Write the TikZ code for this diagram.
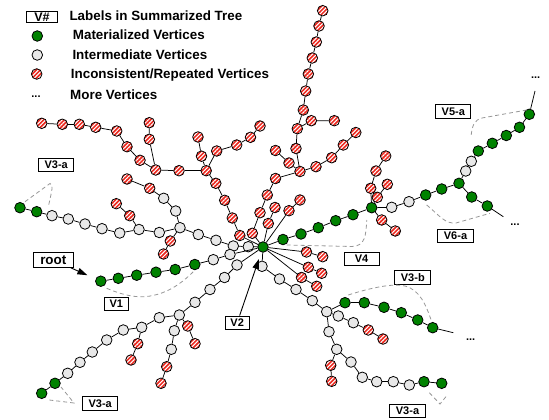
\documentclass[tikz,border=0pt]{standalone}
\usepackage{fontspec}
\setmainfont{Liberation Sans}
\usetikzlibrary{arrows.meta,patterns.meta}
\definecolor{matgreen}{RGB}{0,130,0}
\definecolor{intergray}{RGB}{232,232,232}
\definecolor{hatchred}{RGB}{236,40,30}
\definecolor{dashgray}{RGB}{150,150,150}

\begin{document}
\begin{tikzpicture}[x=1pt,y=-1pt,
    vtx/.style={circle, draw=black, line width=0.8pt, minimum size=10.6pt, inner sep=0pt},
    mat/.style={vtx, fill=matgreen},
    inter/.style={vtx, fill=intergray},
    incon/.style={vtx, preaction={fill=hatchred}, pattern={Lines[angle=45,distance=2.9pt,line width=1.05pt]}, pattern color=white},
    edge/.style={line width=0.75pt},
    lab/.style={draw=black, fill=white, line width=0.9pt, font=\fontsize{11}{11}\selectfont\bfseries, inner xsep=6pt, inner ysep=0pt, minimum height=13.3pt},
    note/.style={dashgray, line width=0.8pt, dash pattern=on 4pt off 3pt},
    legtext/.style={font=\fontsize{13.4}{14}\selectfont\bfseries, inner sep=0pt, anchor=base west},
    more/.style={font=\fontsize{11}{11}\selectfont\bfseries, inner sep=0pt, anchor=base}
]
    \useasboundingbox (0,0) rectangle (549,420);

    % Legend
    \node[lab, font=\fontsize{12.5}{12.5}\selectfont\bfseries, inner xsep=7.5pt, minimum height=11pt] (keylab) at (42,17.2) {V\#};
    \node[legtext] (keylabt) at (69.3,20.7) {Labels in Summarized Tree};
    \node[mat] (keymat) at (37.3,36) {};
    \node[legtext] (keymatt) at (72.7,40) {Materialized Vertices};
    \node[inter] (keyint) at (37.3,55) {};
    \node[legtext] (keyintt) at (72.3,59.3) {Intermediate Vertices};
    \node[incon] (keyinc) at (36.7,74) {};
    \node[legtext] (keyinct) at (70.7,78.3) {Inconsistent/Repeated Vertices};
    \node[more] (keymore) at (36,98) {...};
    \node[legtext] (keymoret) at (70,99.3) {More Vertices};

    % Hub vertex
    \node[mat] (h) at (263,247) {};

    % Left chain (V3-a, upper left)
    \foreach \i/\t/\x/\y in {1/inter/248.3/246.7, 2/inter/233.3/246, 3/inter/216/240.3,
        4/inter/198.3/234.5, 5/inter/180/227.7, 6/inter/159.3/232.5, 7/inter/139/229.5,
        8/inter/119.7/233, 9/inter/102/228.7, 10/inter/85/224, 11/inter/68.3/219,
        12/inter/52/215.7, 13/mat/36.7/211.7, 14/mat/20/207.7}
        \node[\t] (L\i) at (\x,\y) {};
    \foreach \i/\t/\x/\y in {1/incon/129.7/215.7, 2/incon/116.3/203.7}
        \node[\t] (La\i) at (\x,\y) {};
    \foreach \i/\t/\x/\y in {1/inter/175.7/211, 2/inter/163.7/198.3, 3/incon/149.7/188.3, 4/incon/127/179}
        \node[\t] (Lb\i) at (\x,\y) {};
    \foreach \i/\t/\x/\y in {1/incon/170.3/241, 2/incon/163.5/254}
        \node[\t] (Lc\i) at (\x,\y) {};
    \draw[edge] (h) -- (L1);
    \foreach \i [evaluate=\i as \j using int(\i+1)] in {1,...,13}
        \draw[edge] (L\i) -- (L\j);
    \draw[edge] (L7) -- (La1) -- (La2);
    \draw[edge] (L5) -- (Lb1) -- (Lb2) -- (Lb3) -- (Lb4);
    \draw[edge] (L5) -- (Lc1) -- (Lc2);

    % Root chain (V1)
    \foreach \i/\t/\x/\y in {1/inter/230/254.5, 2/inter/213.3/259.7, 3/mat/194.8/264.5,
        4/mat/175.2/269.5, 5/mat/156/272.2, 6/mat/136.7/275.2, 7/mat/118.3/278.3, 8/mat/100.8/281.2}
        \node[\t] (R\i) at (\x,\y) {};
    \draw[edge] (h) -- (R1);
    \foreach \i [evaluate=\i as \j using int(\i+1)] in {1,...,7}
        \draw[edge] (R\i) -- (R\j);

    % Lower left chain (V2)
    \foreach \i/\t/\x/\y in {1/inter/237/265, 2/inter/224.5/277.5, 3/inter/210/289.5,
        4/inter/195/302.3, 5/inter/179.3/315, 6/inter/159.3/317.7, 7/inter/141.7/327.3,
        8/inter/123.3/330, 9/inter/106.7/340, 10/inter/92.3/352, 11/inter/80/362.3,
        12/inter/67.7/373.3, 13/mat/55/383.3, 14/mat/41.7/393.3}
        \node[\t] (D\i) at (\x,\y) {};
    \foreach \i/\t/\x/\y in {1/incon/187.7/326, 2/incon/195/343.7}
        \node[\t] (Da\i) at (\x,\y) {};
    \foreach \i/\t/\x/\y in {1/inter/174.3/330.7, 2/inter/171.3/349.3, 3/incon/166.7/366.7, 4/incon/161/383.3}
        \node[\t] (Db\i) at (\x,\y) {};
    \foreach \i/\t/\x/\y in {1/incon/137.7/343.7, 2/incon/131/360}
        \node[\t] (Dc\i) at (\x,\y) {};
    \draw[edge] (h) -- (D1);
    \foreach \i [evaluate=\i as \j using int(\i+1)] in {1,...,13}
        \draw[edge] (D\i) -- (D\j);
    \draw[edge] (D5) -- (Da1) -- (Da2);
    \draw[edge] (D5) -- (Db1) -- (Db2) -- (Db3) -- (Db4);
    \draw[edge] (D7) -- (Dc1) -- (Dc2);

    % Long red chain to the top
    \foreach \i/\x/\y in {1/252.3/233.3, 2/260/212.7, 3/267.3/195, 4/275.5/178.5, 5/300/171.5,
        6/296/148.5, 7/297.3/128.7, 8/303.3/110, 9/305.7/91, 10/308.3/74, 11/312.3/58,
        12/316.3/42, 13/319/26, 14/322.7/10.7}
        \node[incon] (T\i) at (\x,\y) {};
    \foreach \i/\x/\y in {1/311.3/120.7, 2/334.3/120.7}
        \node[incon] (Ta\i) at (\x,\y) {};
    \foreach \i/\x/\y in {1/289/163, 2/275.5/150.5}
        \node[incon] (Tb\i) at (\x,\y) {};
    \foreach \i/\x/\y in {1/316/166.7, 2/331.7/157.7, 3/343.3/145, 4/355.8/132.5}
        \node[incon] (Tc\i) at (\x,\y) {};
    \draw[edge] (h) -- (T1);
    \foreach \i [evaluate=\i as \j using int(\i+1)] in {1,...,13}
        \draw[edge] (T\i) -- (T\j);
    \draw[edge] (T7) -- (Ta1) -- (Ta2);
    \draw[edge] (T5) -- (Tb1) -- (Tb2);
    \draw[edge] (T5) -- (Tc1) -- (Tc2) -- (Tc3) -- (Tc4);

    % Red tree, upper left
    \foreach \i/\x/\y in {1/239.8/235.5, 2/232.3/218, 3/224.7/200.3, 4/215.8/183.3, 5/206.2/170.7,
        6/179/170.7, 7/155.7/170, 8/140/160.3, 9/127/146.7, 10/116.7/131, 11/95.7/127.3,
        12/79.3/124.3, 13/62.3/124.3, 14/41.7/123.3}
        \node[incon] (U\i) at (\x,\y) {};
    \foreach \i/\x/\y in {1/149.3/139.3, 2/149.3/122.7}
        \node[incon] (Ua\i) at (\x,\y) {};
    \foreach \i/\x/\y in {1/201.5/156.2, 2/198/137}
        \node[incon] (Ub\i) at (\x,\y) {};
    \foreach \i/\x/\y in {1/216.7/151, 2/236.7/145, 3/250.5/137.3, 4/260/126}
        \node[incon] (Uc\i) at (\x,\y) {};
    \draw[edge] (h) -- (U1);
    \foreach \i [evaluate=\i as \j using int(\i+1)] in {1,...,13}
        \draw[edge] (U\i) -- (U\j);
    \draw[edge] (U7) -- (Ua1) -- (Ua2);
    \draw[edge] (U5) -- (Ub1) -- (Ub2);
    \draw[edge] (U5) -- (Uc1) -- (Uc2) -- (Uc3) -- (Uc4);

    % Short red stubs at the hub
    \foreach \n/\x/\y in {Sa1/268.3/223.5, Sa2/275/207.5, Sb1/289/210.7, Sb2/300/200,
        Ea1/306.5/252, Ea2/322.7/256.7, Eb1/308.3/267.3, Eb2/321.7/273.3,
        Ec1/301.5/277.5, Ec2/316.7/286.3}
        \node[incon] (\n) at (\x,\y) {};
    \foreach \a/\b in {h/Sa1, Sa1/Sa2, h/Sb1, Sb1/Sb2, h/Ea1, Ea1/Ea2, h/Eb1, Eb1/Eb2, h/Ec1, Ec1/Ec2}
        \draw[edge] (\a) -- (\b);

    % Green chain to the right (V4, V6-a, V5-a)
    \foreach \i/\t/\x/\y in {1/mat/283/239.5, 2/mat/301/234, 3/mat/318.3/227.7, 4/mat/335.7/220.7,
        5/mat/353/214.7, 6/mat/371.7/207.7, 7/inter/391.7/207.3, 8/inter/409/201.7,
        9/mat/425.7/195, 10/mat/441.7/189, 11/mat/459/183.3, 12/inter/465.7/171,
        13/inter/471.3/161.3, 14/mat/478.3/151, 15/mat/492.3/143.3, 16/mat/506.3/135.5,
        17/mat/519.5/127.3, 18/mat/529.3/114.3}
        \node[\t] (G\i) at (\x,\y) {};
    \coordinate (Gend) at (535,91);
    \node[mat] (Gd1) at (471.7,197) {};
    \node[mat] (Gd2) at (487.3,206) {};
    \coordinate (Gdend) at (503.3,216.7);
    \foreach \n/\x/\y in {Ga1/370.7/188.3, Ga2/376/171, Ga3/385.7/156, Gb1/377.3/197.3,
        Gb2/387.3/184.3, Gc1/381.7/220, Gc2/395.3/231}
        \node[incon] (\n) at (\x,\y) {};
    \draw[edge] (h) -- (G1);
    \foreach \i [evaluate=\i as \j using int(\i+1)] in {1,...,17}
        \draw[edge] (G\i) -- (G\j);
    \draw[edge] (G18) -- (Gend);
    \draw[edge] (G11) -- (Gd1) -- (Gd2) -- (Gdend);
    \draw[edge] (G6) -- (Ga1) -- (Ga2) -- (Ga3);
    \draw[edge] (G6) -- (Gb1) -- (Gb2);
    \draw[edge] (G6) -- (Gc1) -- (Gc2);
    \node[more] (more1) at (535.7,78.5) {...};
    \node[more] (more2) at (515,225.5) {...};

    % Gray chain to the lower right (V3-b, V3-a)
    \foreach \i/\x/\y in {1/262/266.3, 2/279.5/279, 3/296/289.5, 4/312.3/300.7, 5/326.7/311.7}
        \node[inter] (B\i) at (\x,\y) {};
    \foreach \i/\x/\y in {1/345/302.7, 2/364.3/302.7, 3/384/307.3, 4/401.3/312.7, 5/417.7/320, 6/432.7/327.7}
        \node[mat] (Ba\i) at (\x,\y) {};
    \coordinate (Baend) at (453.3,332.7);
    \foreach \i/\t/\x/\y in {1/inter/338.3/316, 2/inter/353.3/322.7, 3/incon/368.3/330, 4/incon/383/339}
        \node[\t] (Bb\i) at (\x,\y) {};
    \foreach \i/\x/\y in {1/329/331.7, 2/336.7/349.3}
        \node[inter] (Bc\i) at (\x,\y) {};
    \foreach \i/\x/\y in {1/330.7/365.3, 2/331.7/381.3}
        \node[incon] (Bd\i) at (\x,\y) {};
    \foreach \i/\t/\x/\y in {1/inter/351/362, 2/inter/362.3/377.3, 3/inter/376.7/381.7,
        4/inter/393.3/381.7, 5/inter/409.3/385, 6/mat/424/381.7, 7/mat/441.7/383.3}
        \node[\t] (Be\i) at (\x,\y) {};
    \draw[edge] (h) -- (B1) -- (B2) -- (B3) -- (B4) -- (B5);
    \draw[edge] (B5) -- (Ba1);
    \foreach \i [evaluate=\i as \j using int(\i+1)] in {1,...,5}
        \draw[edge] (Ba\i) -- (Ba\j);
    \draw[edge] (Ba6) -- (Baend);
    \draw[edge] (B5) -- (Bb1) -- (Bb2) -- (Bb3) -- (Bb4);
    \draw[edge] (B5) -- (Bc1) -- (Bc2) -- (Bd1) -- (Bd2);
    \draw[edge] (Bc2) -- (Be1);
    \foreach \i [evaluate=\i as \j using int(\i+1)] in {1,...,6}
        \draw[edge] (Be\i) -- (Be\j);
    \node[more] (more3) at (470.7,340.5) {...};

    % Summary labels
    \node[lab] (v3aul) at (56.2,165) {V3-a};
    \node[lab, font=\fontsize{13.4}{13.4}\selectfont\bfseries, inner xsep=7pt, minimum height=14.7pt] (root) at (53.3,260) {root};
    \node[lab, minimum width=24pt, inner xsep=0pt] (v1) at (116.3,304) {V1};
    \node[lab, minimum width=24pt, inner xsep=0pt] (v2) at (237.2,322.7) {V2};
    \node[lab] (v3abl) at (100.2,403.3) {V3-a};
    \node[lab, minimum width=35pt, inner xsep=0pt] (v4) at (361.5,259.2) {V4};
    \node[lab] (v3b) at (412.8,277.5) {V3-b};
    \node[lab] (v3abr) at (407.5,410.7) {V3-a};
    \node[lab] (v6a) at (455.5,235.8) {V6-a};
    \node[lab] (v5a) at (453.3,111.3) {V5-a};

    % Arrows
    \draw[line width=0.9pt, -{Triangle[length=10pt,width=6.5pt]}, shorten >=9pt] (root) -- (R8);
    \draw[line width=0.9pt, -{Triangle[length=10pt,width=6.5pt]}, shorten >=7pt] (v2) -- (h);

    % Dashed groupings
    \draw[note] (25,201.7) -- (50,183.5) .. controls (53,186) .. (48.3,206.7);
    \draw[note] (106.7,288.3) .. controls (125,296) and (140,299) .. (155,295) .. controls (172,291) and (185,280) .. (193.3,271.7);
    \draw[note] (49.3,400) -- (74,403) -- (61,387);
    \draw[note] (286.7,245) -- (352,246.5) .. controls (365,246) and (366,236) .. (366.7,220);
    \draw[note] (426.7,205) .. controls (440,216) and (445,224) .. (456,223) -- (490,213.3);
    \draw[note] (526.7,110) -- (482,118) .. controls (474,120) and (472,126) .. (471,137);
    \draw[note] (348.3,295) .. controls (370,288) and (393,283) .. (405,286) .. controls (420,290) and (426,305) .. (431.7,321.7);
    \draw[note] (429.3,392.7) -- (440,404) -- (447.3,395);

\end{tikzpicture}
\end{document}
